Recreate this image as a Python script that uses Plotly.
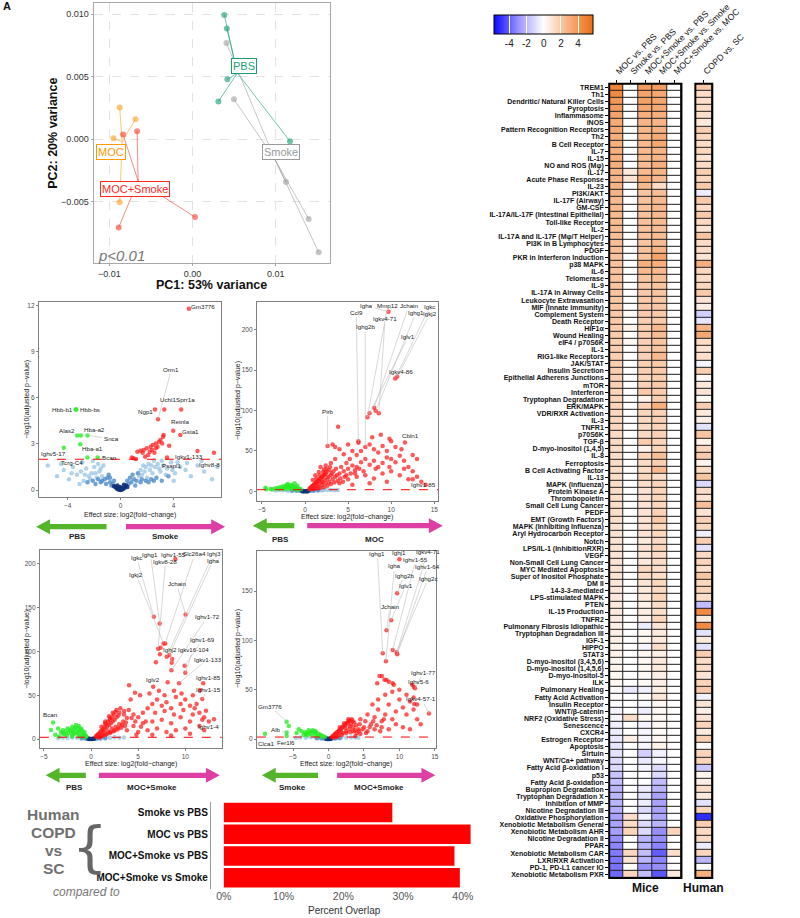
import plotly.graph_objects as go
import numpy as np

FONT = "Liberation Sans, Arial, Helvetica, sans-serif"
W, H = 800, 918


def PX(x):
    return x / W


def PY(y):
    return 1 - y / H


# ---------------------------------------------------------------- PCA data
pbs_pc1 = [0.00382, 0.00412, 0.00419, 0.00311, 0.01172]
pbs_pc2 = [0.00994, 0.00886, 0.00480, 0.00302, -0.00016]
smoke_pc1 = [0.00408, 0.00498, 0.01124, 0.01397, 0.01517]
smoke_pc2 = [0.00770, 0.00320, -0.00342, -0.00638, -0.00904]
moc_pc1 = [-0.00876, -0.00685, -0.00951, -0.00876]
moc_pc2 = [0.00254, 0.00160, 0.00008, -0.00504]
mocs_pc1 = [-0.00835, -0.00666, -0.00913, -0.00888, 0.00030]
mocs_pc2 = [0.00038, 0.00064, -0.00434, -0.00706, -0.00622]

# ---------------------------------------------------------------- volcano data (x = log2FC, y = -log10 padj)
v1_blue_light = [(-5.5, 1.6), (-4.8, 0.9), (-4.3, 1.3), (-3.9, 0.7), (-3.6, 1.5), (-3.3, 1.0), (-3.0, 1.2),
                 (-2.8, 0.6), (-2.6, 1.4), (-2.4, 0.9), (-2.2, 1.1), (-2.0, 1.5), (-1.8, 0.8), (-1.6, 1.2),
                 (-1.4, 0.9), (-3.1, 0.4), (-2.9, 1.8), (-2.1, 1.9), (-1.3, 1.6), (1.4, 0.9), (1.6, 1.0),
                 (1.8, 1.2), (2.0, 0.8), (2.2, 1.3), (2.4, 1.1), (2.6, 1.5), (2.8, 1.7), (3.0, 1.2),
                 (3.2, 1.6), (3.5, 1.4), (3.8, 1.8), (4.1, 1.1), (4.5, 1.5), (4.9, 1.3), (5.3, 0.9),
                 (5.8, 1.6), (6.3, 1.2), (6.9, 0.7), (7.3, 1.5), (1.7, 1.6), (2.5, 1.9), (4.0, 0.6),
                 (3.1, 1.9), (5.0, 1.75), (6.1, 1.9), (-2.7, 1.0), (-2.3, 0.7), (-1.7, 1.7), (-3.7, 1.1),
                 (-4.5, 1.7), (1.9, 1.5), (2.3, 1.6), (2.9, 1.4), (3.4, 1.0), (3.9, 1.3), (4.3, 1.8),
                 (-1.5, 1.4), (-1.9, 1.1), (1.5, 1.3), (2.1, 1.7)]
v1_blue_mid = [(-1.2, 0.7), (-1.0, 0.8), (-0.8, 0.5), (-0.6, 0.4), (-2.5, 0.5), (-1.9, 0.4), (-1.5, 0.5),
               (-1.1, 0.4), (-0.7, 0.3), (0.6, 0.4), (0.8, 0.5), (1.0, 0.7), (1.2, 0.6), (1.1, 0.3),
               (1.5, 0.5), (1.9, 0.6), (2.3, 0.7), (2.7, 0.8), (3.1, 0.6), (3.6, 0.9), (-0.9, 1.0),
               (0.9, 1.0), (1.3, 1.1), (-1.4, 0.6), (-1.7, 0.7), (-2.1, 0.6), (1.6, 0.7), (2.1, 0.5),
               (2.5, 0.6), (-0.5, 0.6), (0.5, 0.6), (0.7, 0.8), (-0.8, 0.8)]
v1_blue_dark = [(-0.4, 0.2), (-0.3, 0.1), (-0.2, 0.05), (-0.15, 0.15), (-0.1, 0.02), (-0.05, 0.2), (0.0, 0.0),
                (0.05, 0.1), (0.1, 0.03), (0.15, 0.12), (0.2, 0.08), (0.3, 0.15), (0.4, 0.3), (-0.5, 0.25),
                (0.5, 0.2), (0.25, 0.35), (-0.25, 0.3)]
v1_green = [(-3.4, 5.23), (-3.35, 5.23), (-3.28, 3.55), (-3.0, 3.55), (-2.5, 3.55), (-3.05, 2.98),
            (-4.29, 2.74), (-2.51, 2.12), (-1.74, 2.12)]
v1_red = [(5.15, 11.77), (2.82, 4.6), (2.59, 5.23), (3.29, 5.23), (4.57, 5.23), (3.97, 3.85), (4.5, 3.57),
          (5.8, 2.54), (7.04, 2.43), (3.5, 2.12), (3.24, 3.57), (3.2, 3.46), (3.01, 3.25), (2.89, 3.14),
          (2.66, 3.03), (2.43, 2.92), (2.26, 2.81), (1.96, 2.71), (1.73, 2.6), (1.5, 2.55), (1.26, 2.49),
          (0.96, 2.06), (1.15, 2.01), (1.85, 2.16), (2.08, 2.27), (2.55, 2.42), (2.78, 2.81), (3.13, 3.03),
          (3.66, 2.88), (2.2, 2.49), (1.66, 2.42), (2.36, 2.6), (2.66, 2.71), (0.84, 2.12)]
# (gene, point x, point y, label x, label y, leader line)
v1_labels = [("Gm3776", 5.15, 11.77, 6.2, 11.95, False), ("Orm1", 2.82, 4.6, 3.83, 7.84, True),
             ("Ngp1", 2.59, 5.23, 1.85, 5.1, False), ("Uchl1", 3.29, 5.23, 3.6, 5.9, False),
             ("Sprr1a", 4.57, 5.23, 4.88, 5.9, False), ("Retnla", 3.97, 3.85, 4.48, 4.44, False),
             ("Gsta1", 4.5, 3.57, 5.27, 3.79, False), ("Hbb-b1", -3.4, 5.23, -4.38, 5.23, False),
             ("Hbb-bs", -3.35, 5.23, -2.35, 5.23, False), ("Alas2", -3.28, 3.55, -4.03, 3.9, False),
             ("Hba-a2", -3.0, 3.55, -2.0, 3.95, False), ("Snca", -2.5, 3.55, -0.72, 3.33, True),
             ("Hba-a1", -3.05, 2.98, -2.12, 2.7, False), ("Ighv5-17", -4.29, 2.74, -5.08, 2.38, False),
             ("Tcrg-C4", -2.51, 2.12, -3.7, 1.77, False), ("Bcan", -1.74, 2.12, -0.86, 2.12, False),
             ("Igkv1-133", 3.5, 2.12, 5.15, 2.2, False), ("Psapl1", 3.3, 1.8, 3.87, 1.62, False),
             ("Ighv8-8", 7.04, 2.43, 6.74, 1.67, False)]

v2_blue_light = [(-3.0, 1.5), (-2.6, 1.2), (-2.2, 1.8), (-1.8, 1.4), (-1.4, 1.9), (-1.0, 1.5), (-0.7, 1.2),
                 (0.7, 1.0), (1.0, 1.4), (1.4, 1.8), (1.8, 1.6), (2.2, 1.9), (2.6, 1.5), (3.0, 1.8),
                 (3.4, 1.3), (-2.0, 0.8), (2.0, 0.9), (-3.4, 1.0), (3.8, 1.6)]
v2_blue_mid = [(-0.6, 0.6), (-0.4, 0.5), (0.4, 0.4), (0.6, 0.7), (-1.0, 0.6), (1.0, 0.6), (-1.5, 0.8),
               (1.5, 0.9)]
v2_blue_dark = [(-0.3, 0.2), (-0.15, 0.1), (0.0, 0.0), (0.15, 0.1), (0.3, 0.25), (-0.2, 0.4), (0.2, 0.45)]
v2_green = [(-0.5, 2.5), (-0.7, 3.5), (-0.9, 4.0), (-1.1, 5.0), (-1.3, 5.5), (-1.5, 6.0), (-1.7, 6.5),
            (-1.9, 7.0), (-2.1, 7.5), (-2.3, 7.0), (-2.6, 6.0), (-2.9, 5.0), (-3.2, 4.0), (-3.5, 3.5),
            (-4.0, 3.0), (-4.5, 2.5), (-1.0, 3.0), (-1.4, 4.0), (-1.8, 4.5), (-2.2, 5.0), (-2.6, 4.0),
            (-3.0, 3.0), (-0.8, 2.2), (-1.2, 2.5), (-1.6, 3.0), (-2.0, 3.5), (-2.4, 3.0), (-3.8, 2.3),
            (-4.6, 4.5), (-1.5, 8.0), (-2.0, 9.0), (-1.2, 10.0), (-0.9, 7.0)]
v2_red = [(9.68, 222.3), (10.47, 139.8), (10.7, 142.0), (3.84, 80.0), (11.6, 60.6), (8.03, 103.5),
          (8.57, 96.5), (7.49, 96.5), (7.24, 91.6), (8.2, 99.8), (2.62, 56.0), (12.5, 15.0), (6.2, 60.0),
          (7.0, 55.0), (0.5, 3), (0.7, 5), (0.9, 7), (1.1, 9), (1.3, 11), (1.5, 13), (1.7, 15), (1.9, 17),
          (2.1, 19), (2.3, 21), (2.5, 24), (0.8, 2.5), (1.2, 4), (1.6, 6), (2.0, 8), (2.4, 10), (2.8, 12),
          (3.2, 15), (1.0, 3), (1.4, 5), (1.8, 4), (2.2, 5), (2.6, 7), (3.0, 9), (3.4, 11), (3.8, 13),
          (2.0, 12), (2.6, 16), (3.0, 20), (3.5, 18), (4.0, 22), (4.5, 25), (2.2, 27), (2.8, 26),
          (3.6, 28), (4.2, 30), (5.0, 28), (5.5, 32), (6.0, 30), (4.8, 35), (5.2, 40), (6.5, 36),
          (7.0, 40), (7.5, 33), (8.0, 38), (8.5, 30), (9.0, 35), (9.5, 42), (10.0, 40), (10.5, 36),
          (11.0, 44), (11.5, 38), (12.0, 30), (12.5, 25), (13.0, 18), (13.5, 12), (14.0, 8), (6.0, 45),
          (6.5, 50), (7.5, 58), (8.0, 52), (8.5, 48), (9.0, 56), (9.5, 50), (10.0, 62), (10.5, 55),
          (5.5, 50), (4.5, 46), (3.5, 40), (3.0, 35), (3.2, 58), (3.5, 55), (4.0, 52), (5.0, 58),
          (6.2, 62), (7.8, 67), (8.8, 70), (9.8, 65), (11.2, 52), (12.5, 45), (13.0, 40), (4.0, 10),
          (5.0, 15), (6.0, 18), (7.0, 20), (8.0, 16), (9.0, 22), (10.0, 25), (11.0, 20), (12.0, 15),
          (5.5, 8), (7.5, 10), (9.5, 12), (6.8, 25), (8.2, 28), (9.8, 30), (11.5, 28), (5.8, 22),
          (4.6, 18), (1.2, 20), (1.6, 24), (0.9, 14), (2.4, 32), (1.8, 30), (0.6, 4), (0.8, 6), (1.0, 8),
          (1.2, 10), (1.4, 12), (1.6, 14), (1.8, 16), (2.0, 18), (2.2, 20), (2.4, 22), (0.7, 3), (1.1, 6),
          (1.5, 9), (1.9, 11), (2.3, 14), (2.7, 18), (3.1, 22), (1.3, 16), (1.7, 20), (2.1, 24),
          (2.5, 28), (2.9, 30), (3.3, 25), (3.7, 20), (4.1, 16), (4.4, 12), (4.8, 20), (5.3, 22),
          (5.8, 26), (6.3, 28)]
v2_labels = [("Igha", 9.68, 222.3, 7.1, 229.7, True), ("Mmp12", 7.24, 91.6, 9.6, 229.7, True),
             ("Jchain", 8.03, 103.5, 12.05, 229.7, True), ("Igkc", 10.47, 139.8, 14.5, 229.0, True),
             ("Igkj2", 10.7, 142.0, 14.5, 220.0, True), ("Ighg1", 8.2, 99.8, 12.9, 221.5, True),
             ("Ccl9", 6.2, 60.0, 5.95, 221.9, True), ("Igkv4-71", 8.57, 96.5, 9.29, 213.6, True),
             ("Ighg2b", 7.0, 55.0, 6.99, 203.7, True), ("Iglv1", 7.49, 96.5, 12.0, 191.8, True),
             ("Igkv4-86", 10.7, 142.0, 11.2, 148.0, False), ("Pirb", 2.62, 56.0, 2.62, 99.4, True),
             ("Cbln1", 11.6, 60.6, 12.2, 68.8, False), ("Ighv1-85", 12.5, 15.0, 13.7, 9.0, False)]

v3_blue_light = [(-3.0, 1.5), (-2.5, 1.2), (-2.0, 1.8), (-1.5, 1.4), (-1.0, 1.9), (-0.7, 1.2), (0.7, 1.0),
                 (1.0, 1.4), (1.5, 1.8), (2.0, 1.6), (2.5, 1.9), (3.0, 1.5), (3.5, 1.8), (-3.5, 1.0)]
v3_blue_mid = [(-0.6, 0.6), (-0.4, 0.5), (0.4, 0.4), (0.6, 0.7), (-1.0, 0.6), (1.0, 0.6), (1.5, 0.9)]
v3_blue_dark = [(-0.3, 0.2), (-0.15, 0.1), (0.0, 0.0), (0.15, 0.1), (0.3, 0.25), (-0.2, 0.4), (0.2, 0.45)]
v3_green = [(-4.03, 19.0), (-4.26, 10.4), (-3.5, 12), (-3.2, 8), (-3.0, 10), (-2.8, 6), (-2.5, 12),
            (-2.2, 9), (-2.0, 14), (-1.8, 11), (-1.6, 16), (-1.4, 13), (-1.2, 10), (-1.0, 8), (-0.8, 6),
            (-0.6, 4), (-0.5, 3), (-1.5, 7), (-2.0, 5), (-2.6, 4), (-3.4, 3), (-1.1, 12), (-0.9, 5),
            (-1.9, 8), (-2.4, 7), (-3.8, 5), (-1.3, 5), (-1.7, 13), (-1.3, 15), (-0.7, 8), (-1.0, 11),
            (-1.4, 9), (-1.8, 6), (-2.2, 11), (-2.7, 9), (-3.0, 6), (-0.6, 2.5), (-1.2, 3), (-2.0, 3)]
v3_red = [(8.95, 205.5), (6.66, 139.6), (7.28, 132.0), (10.03, 142.3), (7.7, 109.2), (7.87, 109.2),
          (7.12, 103.0), (7.37, 104.2), (7.31, 96.7), (8.03, 94.0), (8.3, 95.9), (8.6, 91.3),
          (8.56, 87.1), (6.88, 87.6), (8.53, 78.4), (9.93, 83.7), (10.0, 75.7), (6.59, 59.7),
          (8.13, 64.7), (9.34, 63.6), (11.9, 63.6), (11.57, 55.9), (11.8, 45.7), (13.05, 22.5),
          (12.2, 32.3), (4.03, 61.3), (4.66, 52.9), (0.5, 3), (0.7, 5), (0.9, 6), (1.1, 8), (1.3, 10),
          (1.5, 12), (1.7, 14), (1.9, 16), (2.1, 18), (2.3, 20), (2.5, 22), (2.7, 25), (2.9, 27),
          (0.8, 2), (1.2, 4), (1.6, 5), (2.0, 7), (2.4, 9), (2.8, 11), (3.2, 13), (3.6, 15), (1.0, 3),
          (1.4, 7), (1.8, 9), (2.2, 12), (2.6, 14), (3.0, 17), (3.4, 20), (3.8, 24), (3.0, 30),
          (3.5, 28), (4.0, 33), (4.5, 28), (5.0, 25), (5.5, 30), (6.0, 35), (6.5, 40), (7.0, 45),
          (7.5, 38), (8.0, 42), (8.5, 35), (9.0, 48), (9.5, 40), (10.0, 45), (10.5, 38), (11.0, 35),
          (11.5, 30), (12.0, 25), (12.5, 20), (4.5, 15), (5.5, 18), (6.5, 20), (7.5, 22), (8.5, 18),
          (9.5, 25), (10.5, 20), (11.5, 15), (5.0, 8), (6.0, 10), (7.0, 12), (8.0, 8), (9.0, 10),
          (10.0, 12), (4.2, 45), (5.2, 50), (6.2, 52), (7.2, 55), (7.8, 50), (8.8, 55), (9.6, 52),
          (10.8, 50), (6.8, 30), (7.8, 32), (8.8, 28), (9.8, 33), (10.8, 28), (11.8, 22), (3.8, 10),
          (4.8, 5), (6.5, 5), (8.5, 4), (10.5, 6), (12.0, 10), (11.2, 40), (1.5, 20), (2.0, 24),
          (0.6, 4), (0.8, 6), (1.0, 9), (1.2, 11), (1.4, 14), (1.6, 17), (1.8, 20), (2.0, 22), (2.2, 25),
          (2.4, 28), (2.6, 31), (0.9, 2), (1.3, 4), (1.7, 6), (2.1, 8), (2.5, 10), (2.9, 13), (3.3, 16),
          (3.7, 19), (1.1, 14), (1.5, 18), (1.9, 26), (2.3, 30), (2.7, 33), (3.1, 35), (3.5, 32),
          (4.3, 24), (4.7, 20), (5.3, 14), (5.8, 20)]
v3_labels = [("Igkc", 6.66, 139.6, 4.85, 207.0, True), ("Ighg1", 7.28, 132.0, 6.3, 211.0, True),
             ("Ighv1-55", 8.95, 205.5, 8.7, 210.4, False), ("Slc26a4", 7.87, 109.2, 11.0, 211.5, True),
             ("Ighj3", 8.03, 94.0, 13.0, 212.0, True), ("Igha", 8.3, 95.9, 12.95, 204.0, True),
             ("Igkv8-28", 7.12, 103.0, 7.9, 203.0, True), ("Igkj2", 7.7, 109.2, 4.76, 188.0, True),
             ("Jchain", 10.03, 142.3, 9.08, 177.0, True), ("Ighv1-72", 8.53, 78.4, 12.36, 139.6, True),
             ("Ighv1-69", 9.93, 83.7, 11.87, 113.8, True), ("Igkv16-104", 10.0, 75.7, 10.85, 102.4, True),
             ("Ighj2", 8.56, 87.1, 8.36, 102.4, True), ("Igkv1-133", 9.34, 63.6, 12.36, 91.3, True),
             ("Ighv1-85", 11.9, 63.6, 12.43, 70.4, False), ("Ighv1-15", 11.8, 45.7, 12.46, 57.0, True),
             ("Iglv2", 6.59, 59.7, 6.62, 68.1, False), ("Ighv1-4", 13.05, 22.5, 12.46, 14.8, True),
             ("Bcan", -4.03, 19.0, -4.26, 27.7, False)]

v4_blue_light = [(-4.0, 1.5), (-3.2, 1.2), (-2.5, 1.8), (-1.8, 1.4), (-1.2, 1.9), (-0.8, 1.2), (0.8, 1.0),
                 (1.2, 1.4), (1.8, 1.8), (2.5, 1.6), (3.2, 1.9), (3.8, 1.5), (4.2, 1.2), (-4.6, 1.0)]
v4_blue_mid = [(-0.6, 0.6), (-0.4, 0.5), (0.4, 0.4), (0.6, 0.7), (-1.0, 0.6), (1.0, 0.6), (1.6, 0.9),
               (-1.6, 0.9)]
v4_blue_dark = [(-0.3, 0.2), (-0.15, 0.1), (0.0, 0.0), (0.15, 0.1), (0.3, 0.25), (-0.2, 0.4), (0.2, 0.45)]
v4_green = [(-0.5, 2), (-0.8, 3), (-1.1, 4), (-1.4, 5), (-1.7, 6), (-2.0, 7), (-2.3, 8), (-2.6, 7),
            (-2.9, 6), (-3.2, 5), (-3.5, 4), (-3.8, 8), (-4.2, 10), (-1.0, 2.5), (-1.5, 3), (-2.0, 4),
            (-2.5, 5), (-3.0, 3.5), (-1.8, 8), (-2.2, 9), (-2.8, 9), (-3.3, 7), (-4.5, 6), (-5.9, 17.6),
            (-5.6, 13.2), (-5.9, 6.5), (-5.9, 3.0), (-8.96, 5.4)]
v4_red = [(10.0, 182.3), (9.67, 147.8), (8.84, 120.4), (8.19, 110.2), (7.66, 86.9), (9.06, 90.3),
          (9.63, 87.9), (9.7, 86.0), (8.1, 78.8), (6.87, 56.5), (7.53, 63.9), (8.19, 59.8), (9.06, 56.5),
          (12.03, 53.0), (12.2, 51.4), (12.1, 35.5), (14.17, 26.0), (0.5, 2), (0.8, 4), (1.1, 6),
          (1.4, 8), (1.7, 10), (2.0, 12), (2.3, 14), (2.6, 16), (2.9, 18), (3.2, 15), (3.5, 12),
          (1.0, 2), (1.5, 4), (2.0, 6), (2.5, 8), (3.0, 10), (3.5, 8), (4.0, 6), (1.2, 3), (1.8, 7),
          (2.4, 11), (3.0, 13), (3.6, 17), (4.2, 10), (4.5, 5), (3.8, 3), (4.5, 20), (5.0, 12),
          (5.5, 25), (6.0, 15), (6.5, 22), (7.0, 30), (7.5, 18), (8.0, 25), (8.5, 35), (9.0, 20),
          (9.5, 28), (10.0, 40), (10.5, 32), (11.0, 25), (11.5, 38), (12.0, 30), (12.5, 20),
          (13.0, 15), (5.5, 8), (6.5, 10), (7.5, 12), (8.5, 10), (9.5, 15), (10.5, 12), (11.5, 10),
          (7.0, 40), (8.0, 45), (9.0, 48), (10.0, 50), (11.0, 45), (7.2, 64), (7.9, 60), (8.5, 58),
          (9.2, 55), (6.2, 35), (5.2, 18), (12.0, 42), (12.5, 35), (11.8, 55), (0.6, 3), (0.9, 5),
          (1.2, 7), (1.5, 9), (1.8, 11), (2.1, 13), (2.4, 15), (2.7, 17), (3.0, 19), (3.3, 20),
          (0.7, 1.5), (1.3, 2.5), (1.9, 4), (2.5, 6), (3.1, 7), (3.7, 9), (4.3, 8), (1.6, 12), (2.2, 16),
          (2.8, 20), (3.4, 18), (3.9, 14), (4.4, 15), (4.8, 10), (5.3, 6), (5.8, 12), (6.3, 18),
          (6.8, 14), (7.3, 8), (7.8, 20)]
v4_labels = [("Ighg1", 7.66, 86.9, 6.9, 188.0, True), ("Igha", 8.1, 78.8, 9.3, 175.5, True),
             ("Ighj1", 10.0, 182.3, 10.0, 189.5, False), ("Ighv1-55", 9.06, 90.3, 12.3, 182.0, True),
             ("Igkv4-71", 9.63, 87.9, 14.0, 190.0, True), ("Ighv1-64", 9.7, 86.0, 14.0, 175.0, True),
             ("Ighg2b", 9.67, 147.8, 10.7, 166.0, True), ("Ighg2c", 9.63, 87.9, 14.1, 163.0, True),
             ("Iglv1", 8.84, 120.4, 10.9, 156.2, True), ("Jchain", 8.19, 110.2, 8.7, 134.9, True),
             ("Ighv1-77", 12.2, 51.4, 13.4, 67.6, True), ("Ighv5-6", 12.03, 53.0, 12.7, 58.8, False),
             ("Igkv4-57-1", 14.17, 26.0, 13.1, 40.9, True), ("Gm3776", -5.9, 17.6, -8.3, 33.5, True),
             ("Alb", -5.9, 6.5, -7.43, 9.8, True), ("Fer1l6", -5.9, 3.0, -5.98, -3.3, True),
             ("Clca1", -8.96, 5.4, -8.8, -4.8, False)]

# ---------------------------------------------------------------- overlap bars
overlap_cats = ["Smoke vs PBS", "MOC vs PBS", "MOC+Smoke vs PBS", "MOC+Smoke vs Smoke"]
overlap_pct = [28.2, 41.3, 38.6, 39.5]
overlap_ticks = ["0%", "10%", "20%", "30%", "40%"]

# ---------------------------------------------------------------- heatmap data
pathways = [
    "TREM1", "Th1", "Dendritic/ Natural Killer Cells", "Pyroptosis", "Inflammasome", "iNOS",
    "Pattern Recognition Receptors", "Th2", "B Cell Receptor", "IL-7", "IL-15", "NO and ROS (Mφ)", "IL-17",
    "Acute Phase Response", "IL-23", "PI3K/AKT", "IL-17F (Airway)", "GM-CSF",
    "IL-17A/IL-17F (Intestinal Epithelial)", "Toll-like Receptor", "IL-2", "IL-17A and IL-17F (Mφ/T Helper)",
    "PI3K in B Lymphocytes", "PDGF", "PKR in Interferon Induction", "p38 MAPK", "IL-6", "Telomerase", "IL-9",
    "IL-17A in Airway Cells", "Leukocyte Extravasation", "MIF (Innate Immunity)", "Complement System",
    "Death Receptor", "HIF1α", "Wound Healing", "eIF4 / p70S6K", "IL-1", "RIG1-like Receptors", "JAK/STAT",
    "Insulin Secretion", "Epithelial Adherens Junctions", "mTOR", "Interferon", "Tryptophan Degradation",
    "ERK/MAPK", "VDR/RXR Activation", "IL-3", "TNFR1", "p70S6K", "TGF-β", "D-myo-inositol (1,4,5)", "IL-8",
    "Ferroptosis", "B Cell Activating Factor", "IL-13", "MAPK (influenza)", "Protein Kinase A",
    "Thrombopoietin", "Small Cell Lung Cancer", "PEDF", "EMT (Growth Factors)", "MAPK (Inhibiting Influenza)",
    "Aryl Hydrocarbon Receptor", "Notch", "LPS/IL-1 (InhibitionRXR)", "VEGF", "Non-Small Cell Lung Cancer",
    "MYC Mediated Apoptosis", "Super of Inositol Phosphate", "DM II", "14-3-3-mediated", "LPS-stimulated MAPK",
    "PTEN", "IL-15 Production", "TNFR2", "Pulmonary Fibrosis Idiopathic", "Tryptophan Degradation III",
    "IGF-1", "HIPPO", "STAT3", "D-myo-inositol (3,4,5,6)", "D-myo-inositol (1,4,5,6)", "D-myo-inositol-5",
    "ILK", "Pulmonary Healing", "Fatty Acid Activation", "Insulin Receptor", "WNT/β-catenin",
    "NRF2 (Oxidative Stress)", "Senescence", "CXCR4", "Estrogen Receptor", "Apoptosis", "Sirtuin",
    "WNT/Ca+ pathway", "Fatty Acid β-oxidation I", "p53", "Fatty Acid β-oxidation", "Bupropion Degradation",
    "Tryptophan Degradation X", "Inhibition of MMP", "Nicotine Degradation III", "Oxidative Phosphorylation",
    "Xenobiotic Metabolism General", "Xenobiotic Metabolism AHR", "Nicotine Degradation II", "PPAR",
    "Xenobiotic Metabolism CAR", "LXR/RXR Activation", "PD-1, PD-L1 cancer IO", "Xenobiotic Metabolism PXR"]

mice_contrasts = ["MOC vs. PBS", "Smoke vs. PBS", "MOC+Smoke vs. PBS", "MOC+Smoke vs. Smoke", "MOC+Smoke vs. MOC"]
human_contrasts = ["COPD vs. SC"]

moc_vs_pbs = [4.8, 4.5, 4.0, 3.8, 3.5, 3.2, 3.2, 3.0, 3.0, 3.0,
              3.0, 3.0, 2.8, 2.8, 2.8, 2.8, 2.6, 2.6, 2.6, 2.5,
              2.5, 2.4, 2.4, 2.4, 2.3, 2.3, 2.3, 2.2, 2.2, 2.2,
              2.1, 2.1, 2.0, 2.0, 1.9, 1.9, 1.8, 1.8, 1.8, 1.8,
              1.8, 1.7, 1.7, 1.6, 1.6, 1.6, 1.5, 1.5, 1.5, 1.4,
              1.4, 1.3, 1.3, 1.3, 1.3, 1.3, 1.3, 1.3, 1.2, 1.2,
              1.2, 1.2, 1.1, 1.1, 1.1, 1.1, 1.0, 1.0, 1.0, 1.0,
              0.9, 0.9, 0.9, 0.8, 0.8, 0.7, 0.6, 0.6, 0.6, 0.5,
              0.5, 0.4, 0.4, 0.3, 0.3, 0.1, 0.1, -0.1, -0.3, -0.3,
              -0.4, -0.5, -0.6, -0.7, -0.8, -1.0, -1.0, -1.6, -1.7, -2.0,
              -2.0, -2.0, -2.2, -2.5, -2.5, -2.6, -3.0, -3.2, -3.4, -3.5, -3.6, -3.8]
smoke_vs_pbs = [0, 0, 0, 0, 0, 0, 0, 0, 0, 0,
                0, 0, 0.8, 1.0, 0, 0, 0, 0, 0, 0,
                0, 0, 0, 0, 0, 0, 0, 0, 0, 0,
                0, 0, 0.2, 0, 0.4, 0, 0.3, 0, 0, 0,
                0, 0, 0, 0, 0, 0, 0, 0, 0, 0,
                0, 0, 0, 0, 0, 0, 0, 0, 0, 0,
                0, 0, 0, 0, 0, 0, 0, 0, 0, 0,
                0, 0, 0, 0, 0, 0, 0, 0, 0, 0,
                0, 0, 0, 0, 0, -0.6, 0, 0, 0, 1.3,
                0, 0, 0.6, 0, 0, 0, 0, 0, 0, 0,
                0, 0, 0, 1.2, 1.3, 1.6, 0, 0, 1.5, 1.0, 0, 1.6]
mocsmoke_vs_pbs = [3.8, 3.5, 3.6, 3.3, 3.0, 2.8, 2.7, 2.6, 2.6, 2.6,
                   2.5, 2.5, 2.6, 3.0, 2.6, 2.2, 2.3, 2.3, 2.3, 2.3,
                   2.3, 2.3, 2.2, 2.3, 2.2, 3.0, 2.6, 2.2, 2.0, 2.0,
                   2.0, 2.0, 2.0, 1.8, 1.8, 1.8, 1.7, 1.8, 1.7, 1.8,
                   1.8, 1.5, 1.7, 2.0, 0.5, 1.6, 1.5, 1.4, 1.3, 1.4,
                   1.9, 0.5, 1.6, 1.3, 1.3, 1.5, 1.3, 1.1, 1.1, 1.0,
                   1.0, 1.0, 1.0, 1.0, 0.8, 1.0, 0.9, 0.8, 1.5, 1.3,
                   1.0, 0.8, 0.8, 0.5, 0.6, 0.5, -0.5, 0.3, 0.3, -0.3,
                   0.3, 0.3, 0.3, 0.2, 0.2, -0.4, 0.2, -0.2, -0.5, 0.3,
                   -0.3, -0.3, -0.3, -0.3, -1.3, -0.6, -0.3, 0.0, 0.0, -0.5,
                   -0.8, -0.5, -1.0, -0.4, -1.0, -1.0, -2.0, -2.0, -1.8, -2.0, -3.0, -1.8]
mocsmoke_vs_smoke = [3.8, 3.3, 3.4, 3.2, 3.0, 2.8, 2.9, 3.2, 3.3, 2.8,
                     2.8, 3.0, 2.8, 2.6, 1.3, 2.4, 2.6, 2.6, 2.6, 2.5,
                     2.4, 2.5, 2.5, 2.8, 3.5, 3.0, 2.6, 2.4, 2.2, 2.2,
                     2.1, 2.1, 2.0, 2.0, 2.6, 2.5, 2.2, 2.2, 2.6, 2.0,
                     2.0, 1.8, 2.0, 1.9, 1.8, 3.0, 1.7, 1.7, 1.6, 1.7,
                     1.6, 1.6, 2.4, 1.8, 2.6, 1.2, 1.6, 1.6, 1.5, 1.5,
                     1.7, 2.0, 1.5, 1.5, 1.4, 1.6, 1.3, 1.3, 1.2, 1.2,
                     1.5, 1.4, 1.6, 1.3, 1.2, 1.5, 1.0, 0.8, 0.8, 1.2,
                     0.6, 0.8, 0.8, 0.6, 0.6, 0.6, 0.9, 0.3, 0.3, 0.3,
                     0.3, 0.2, 0.3, 0.5, -0.4, -0.3, -1.0, -1.0, -1.8, -2.0,
                     -2.5, -2.5, -2.5, -2.4, -2.0, -3.0, -3.0, -3.2, -4.0, -3.2, -3.0, -4.2]
mocsmoke_vs_moc = [0] * 105 + [1.6, 0, 0, 1.2, 0, 0, 0.8]
copd_vs_sc = [2.0, 1.3, 1.2, 1.3, 1.2, 0.8, 1.8, 1.5, 1.3, 1.5,
              1.0, 1.3, 1.8, 1.5, 2.0, -0.5, 2.0, 1.2, 2.0, 1.4,
              1.0, 2.2, 1.3, 1.3, 1.0, 3.0, 1.5, 1.3, 1.5, 2.0,
              1.0, 0.6, -1.3, -0.7, 2.8, 3.3, 1.3, 1.0, 1.2, -0.3,
              1.8, 0.1, 0.8, 1.0, 0.2, 1.8, 0.8, 0.6, -0.8, 2.2,
              0.5, 1.6, 2.0, 0.4, 1.3, 2.2, -1.0, 1.3, 1.0, 2.4,
              1.0, 1.7, 1.5, -0.4, 1.8, -0.8, 1.4, 1.6, 1.2, 2.2,
              1.5, 1.6, 1.2, -1.8, 4.5, 0.8, 4.5, -0.8, 0.8, -0.8,
              1.8, 1.3, 1.3, 1.0, 1.6, 2.0, -0.4, 1.0, 0.6, 1.0,
              1.6, 0.8, 1.8, 0.1, 1.6, 1.6, -1.5, 0.4, 0.6, 1.3,
              0.8, -0.8, 1.6, -5.0, 1.8, 1.4, 1.4, -0.5, 1.5, -2.0, 0.0, 3.0]

# ================================================================ figure
fig = go.Figure()
annotations = []
shapes = []
layout = {}


def ptext(x, y, text, size, color="#111", angle=0, xanchor="center", family=FONT):
    annotations.append(dict(x=PX(x), y=PY(y), xref="paper", yref="paper", text=text, showarrow=False,
                            xanchor=xanchor, yanchor="middle", textangle=angle,
                            font=dict(family=family, size=size, color=color)))


# ---------------------------------------------------------------- PCA panel
pca_groups = [
    ("PBS", pbs_pc1, pbs_pc2, "rgba(27,158,119,0.62)", "#1b9e77", (0.00618, 0.00584)),
    ("Smoke", smoke_pc1, smoke_pc2, "rgba(150,150,150,0.55)", "#9a9a9a", (0.01067, -0.00104)),
    ("MOC", moc_pc1, moc_pc2, "rgba(253,160,40,0.62)", "#ff9900", (-0.00978, -0.00101)),
    ("MOC+Smoke", mocs_pc1, mocs_pc2, "rgba(240,70,50,0.62)", "#ff2a1a", (-0.00697, -0.00394)),
]
for name, xs, ys, pcol, tcol, lab in pca_groups:
    cx, cy = float(np.mean(xs)), float(np.mean(ys))
    lx, ly = [], []
    for a, b in zip(xs, ys):
        lx += [cx, a, None]
        ly += [cy, b, None]
    fig.add_trace(go.Scatter(x=lx, y=ly, mode="lines", line=dict(color=pcol, width=1),
                             xaxis="x", yaxis="y", showlegend=False, hoverinfo="skip"))
    fig.add_trace(go.Scatter(x=xs, y=ys, mode="markers", marker=dict(color=pcol, size=6),
                             xaxis="x", yaxis="y", showlegend=False, name=name))
    annotations.append(dict(x=lab[0], y=lab[1], xref="x", yref="y", text=name, showarrow=False,
                            xanchor="center", yanchor="middle",
                            font=dict(family=FONT, size=11, color=tcol), bgcolor="rgba(255,255,255,0.9)",
                            bordercolor=tcol, borderwidth=1, borderpad=1))

pca_tick = dict(family=FONT, size=9, color="#333")
layout["xaxis"] = dict(domain=[PX(101), PX(356)], range=[-0.0119, 0.0165], anchor="y",
                       tickvals=[-0.01, 0, 0.01], ticktext=["−0.01", "0.00", "0.01"],
                       showgrid=True, gridcolor="#e2e2e2", griddash="dash", zeroline=False,
                       showline=True, mirror=True, linecolor="#a8a8a8", ticks="outside", ticklen=2,
                       tickcolor="#a8a8a8", tickfont=pca_tick)
layout["yaxis"] = dict(domain=[PY(263), PY(3)], range=[-0.0099, 0.0109], anchor="x",
                       tickvals=[-0.005, 0, 0.005, 0.01], ticktext=["−0.005", "0.000", "0.005", "0.010"],
                       showgrid=True, gridcolor="#e2e2e2", griddash="dash", zeroline=False,
                       showline=True, mirror=True, linecolor="#a8a8a8", ticks="outside", ticklen=2,
                       tickcolor="#a8a8a8", tickfont=pca_tick)
ptext(228, 285, "<b>PC1: 53% variance</b>", 12.5)
ptext(57, 133, "<b>PC2: 20% variance</b>", 12.5, angle=-90)
ptext(104, 255, "<i>p<0.01</i>", 15, color="#777", xanchor="left")
ptext(1, 6, "<b>A</b>", 11, xanchor="left")


# ---------------------------------------------------------------- volcano panels
def add_volcano(n, light, mid, dark, green, red, labels, dom_x, dom_y, xr, yr, xt, yt):
    ax = "x%d" % n
    ay = "y%d" % n
    for pts, col in ((light, "rgba(150,195,228,0.75)"), (mid, "rgba(80,140,200,0.8)"),
                     (dark, "rgba(15,50,120,0.9)"), (green, "rgba(40,235,40,0.8)"),
                     (red, "rgba(255,25,25,0.72)")):
        fig.add_trace(go.Scatter(x=[p[0] for p in pts], y=[p[1] for p in pts], mode="markers",
                                 marker=dict(color=col, size=4.5), xaxis=ax, yaxis=ay,
                                 showlegend=False, hoverinfo="skip"))
    common = dict(showgrid=False, zeroline=False, showline=True, mirror=True, linecolor="#808080",
                  linewidth=1, ticks="outside", ticklen=2, tickcolor="#808080",
                  tickfont=dict(family=FONT, size=6.5, color="#4d4d4d"))
    layout["xaxis%d" % n] = dict(domain=dom_x, range=xr, anchor=ay, tickvals=xt,
                                 ticktext=[("−%g" % -v) if v < 0 else "%g" % v for v in xt], **common)
    layout["yaxis%d" % n] = dict(domain=dom_y, range=yr, anchor=ax, tickvals=yt, **common)
    shapes.append(dict(type="line", xref="%s domain" % ax, yref=ay, x0=0, x1=1, y0=2, y1=2,
                       line=dict(color="red", width=1, dash="dash")))
    for g, x0, y0, lx, ly, line in labels:
        if line:
            annotations.append(dict(x=x0, y=y0, xref=ax, yref=ay, ax=lx, ay=ly, axref=ax, ayref=ay,
                                    text=g, showarrow=True, arrowhead=0, arrowwidth=0.6,
                                    arrowcolor="#bdbdbd", standoff=0, xanchor="center", yanchor="middle",
                                    font=dict(family=FONT, size=6.2, color="#222")))
        else:
            annotations.append(dict(x=lx, y=ly, xref=ax, yref=ay, text=g, showarrow=False,
                                    xanchor="center", yanchor="middle",
                                    font=dict(family=FONT, size=6.2, color="#222")))


add_volcano(2, v1_blue_light, v1_blue_mid, v1_blue_dark, v1_green, v1_red, v1_labels,
            [PX(42), PX(239)], [PY(497), PY(301.7)], [-6.17, 7.6], [-0.45, 12.23], [-4, 0, 4], [0, 3, 6, 9, 12])
add_volcano(3, v2_blue_light, v2_blue_mid, v2_blue_dark, v2_green, v2_red, v2_labels,
            [PX(277.3), PX(473)], [PY(500.7), PY(302.3)], [-5.59, 15.45], [-11.6, 234],
            [-5, 0, 5, 10, 15], [0, 50, 100, 150, 200])
add_volcano(4, v3_blue_light, v3_blue_mid, v3_blue_dark, v3_green, v3_red, v3_labels,
            [PX(43), PX(239.3)], [PY(747.7), PY(550)], [-5.44, 13.86], [-9.9, 215.8],
            [-5, 0, 5, 10], [0, 50, 100, 150, 200])
add_volcano(5, v4_blue_light, v4_blue_mid, v4_blue_dark, v4_green, v4_red, v4_labels,
            [PX(277.3), PX(471)], [PY(748.3), PY(550.7)], [-10.1, 15.2], [-9.4, 191],
            [-5, 0, 5, 10, 15], [0, 50, 100, 150])

for cx, cy in ((140.5, 515), (375, 517), (141, 764), (374, 764)):
    ptext(cx, cy, "Effect size: log2(fold−change)", 7, color="#222")
for cx, cy in ((29, 399), (257, 401), (29, 649), (257, 649)):
    ptext(cx, cy, "−log10(adjusted p−value)", 7, color="#222", angle=-90)


def arrow(x0, x1, yc, color, left):
    t, hh, hl = 2.6, 7.5, 15
    if left:
        pts = [(x1, yc - t), (x0 + hl, yc - t), (x0 + hl, yc - hh), (x0, yc), (x0 + hl, yc + hh),
               (x0 + hl, yc + t), (x1, yc + t)]
    else:
        pts = [(x0, yc - t), (x1 - hl, yc - t), (x1 - hl, yc - hh), (x1, yc), (x1 - hl, yc + hh),
               (x1 - hl, yc + t), (x0, yc + t)]
    path = "M " + " L ".join("%.5f,%.5f" % (PX(a), PY(b)) for a, b in pts) + " Z"
    shapes.append(dict(type="path", path=path, xref="paper", yref="paper", fillcolor=color,
                       line=dict(width=0)))


GREEN_ARROW = "#55b52a"
PINK_ARROW = "#dd3fa5"
arrow_specs = [
    (39, 115, 136, 243, 526.7, "PBS", 84, "Smoke", 179, 536.7),
    (273, 317.7, 331.7, 478, 525.7, "PBS", 303.3, "MOC", 404, 539.3),
    (49.3, 92.7, 106.7, 237.3, 775.3, "PBS", 80, "MOC+Smoke", 164.3, 787.3),
    (282.7, 343.3, 364, 470, 775.3, "Smoke", 316, "MOC+Smoke", 408.7, 787.3),
]
for g0, g1, p0, p1, yc, lt, lx, rt, rx, ty in arrow_specs:
    arrow(g0, g1, yc, GREEN_ARROW, True)
    arrow(p0, p1, yc, PINK_ARROW, False)
    ptext(lx, ty, "<b>%s</b>" % lt, 8, color="#222")
    ptext(rx, ty, "<b>%s</b>" % rt, 8, color="#222")

# ---------------------------------------------------------------- overlap bar chart
fig.add_trace(go.Bar(x=overlap_pct, y=list(range(len(overlap_cats))), orientation="h",
                     marker=dict(color="#ff0000", line=dict(width=0)), xaxis="x6", yaxis="y6",
                     showlegend=False, width=0.9))
layout["xaxis6"] = dict(domain=[PX(227.7), PX(510)], range=[-2.17, 41.6], anchor="y6",
                        tickvals=[0, 10, 20, 30, 40], ticktext=overlap_ticks, showgrid=False, zeroline=False,
                        showline=False, ticks="", tickfont=dict(family=FONT, size=10.5, color="#555"))
layout["yaxis6"] = dict(domain=[PY(888.5), PY(801.7)], range=[3.5, -0.5], anchor="x6",
                        tickvals=list(range(len(overlap_cats))),
                        ticktext=["<b>%s</b>" % c for c in overlap_cats], showgrid=False, zeroline=False,
                        showline=True, linecolor="#9a9a9a", ticks="",
                        tickfont=dict(family=FONT, size=10, color="#111"))
ptext(372, 910, "Percent Overlap", 10, color="#333")
for txt, yy in (("Human", 814.3), ("COPD", 832.7), ("vs", 850.7), ("SC", 868.7)):
    ptext(58, yy, "<b>%s</b>" % txt, 15.5, color="#707070")
ptext(97, 846, "{", 56, color="#666", family="DejaVu Sans, sans-serif")
ptext(93, 891.7, "<i>compared to</i>", 12, color="#777")

# ---------------------------------------------------------------- heatmaps
n_rows = len(pathways)
z_mice = np.array([moc_vs_pbs, smoke_vs_pbs, mocsmoke_vs_pbs, mocsmoke_vs_smoke, mocsmoke_vs_moc]).T
z_human = np.array([copd_vs_sc]).T
fig.add_trace(go.Heatmap(z=z_mice, x=list(range(5)), y=list(range(n_rows)), coloraxis="coloraxis",
                         xgap=1, ygap=1, xaxis="x7", yaxis="y7", hoverinfo="skip"))
fig.add_trace(go.Heatmap(z=z_human, x=[0], y=list(range(n_rows)), coloraxis="coloraxis",
                         xgap=1, ygap=1, xaxis="x8", yaxis="y8", hoverinfo="skip"))

HM_TOP, HM_BOT = 83.8, 877.9
layout["xaxis7"] = dict(domain=[PX(657.7), PX(735.7)], range=[-0.5, 4.5], anchor="y7", side="top",
                        tickvals=list(range(5)), ticktext=mice_contrasts, tickangle=-45, ticks="outside",
                        ticklen=3, tickcolor="#000", showgrid=False, zeroline=False, showline=False,
                        tickfont=dict(family=FONT, size=8.7, color="#111"))
layout["yaxis7"] = dict(domain=[PY(HM_BOT), PY(HM_TOP)], range=[n_rows - 0.5, -0.5], anchor="x7",
                        tickvals=list(range(n_rows)), ticktext=["<b>%s</b>" % p for p in pathways],
                        ticks="outside", ticklen=3, tickcolor="#000", showgrid=False, zeroline=False,
                        showline=False, tickfont=dict(family=FONT, size=7, color="#111"))
layout["xaxis8"] = dict(domain=[PX(750.7), PX(769)], range=[-0.5, 0.5], anchor="y8", side="top",
                        tickvals=[0], ticktext=human_contrasts, tickangle=-45, ticks="outside", ticklen=3,
                        tickcolor="#000", showgrid=False, zeroline=False, showline=False,
                        tickfont=dict(family=FONT, size=8.7, color="#111"))
layout["yaxis8"] = dict(domain=[PY(HM_BOT), PY(HM_TOP)], range=[n_rows - 0.5, -0.5], anchor="x8",
                        showticklabels=False, ticks="", showgrid=False, zeroline=False, showline=False)
for ax in ("x7", "x8"):
    ay = "y" + ax[1:]
    shapes.append(dict(type="rect", xref="%s domain" % ax, yref="%s domain" % ay, x0=0, x1=1, y0=0, y1=1,
                       fillcolor="#202020", line=dict(width=0), layer="below"))
    shapes.append(dict(type="rect", xref="%s domain" % ax, yref="%s domain" % ay, x0=0, x1=1, y0=0, y1=1,
                       fillcolor="rgba(0,0,0,0)", line=dict(color="#000", width=2)))
ptext(696.7, 888, "<b>Mice</b>", 12)
ptext(760, 888, "<b>Human</b>", 12)

layout["coloraxis"] = dict(
    cmin=-5.75, cmax=5.75,
    colorscale=[[0, "#0a0aff"], [0.25, "#9c95ff"], [0.5, "#ffffff"], [0.75, "#f7b283"], [1, "#ec6d10"]],
    colorbar=dict(orientation="h", x=PX(587), xanchor="center", y=PY(15), yanchor="top",
                  len=99, lenmode="pixels", thickness=19, thicknessmode="pixels",
                  outlinecolor="#000", outlinewidth=1, tickvals=[-4, -2, 0, 2, 4],
                  ticktext=["-4", "-2", "0", "2", "4"],
                  ticks="inside", ticklen=19, tickcolor="#ffffff", tickwidth=1,
                  tickfont=dict(family=FONT, size=10, color="#222"), xpad=0, ypad=0))

fig.update_layout(**layout)
fig.update_layout(width=W, height=H, autosize=False, margin=dict(l=0, r=0, t=0, b=0),
                  paper_bgcolor="white", plot_bgcolor="white", showlegend=False, hovermode=False,
                  annotations=annotations, shapes=shapes, font=dict(family=FONT))
fig.write_html("out.html", config={"displayModeBar": False, "staticPlot": True},
               post_script="document.body.style.margin='0';document.body.style.overflow='hidden';")
